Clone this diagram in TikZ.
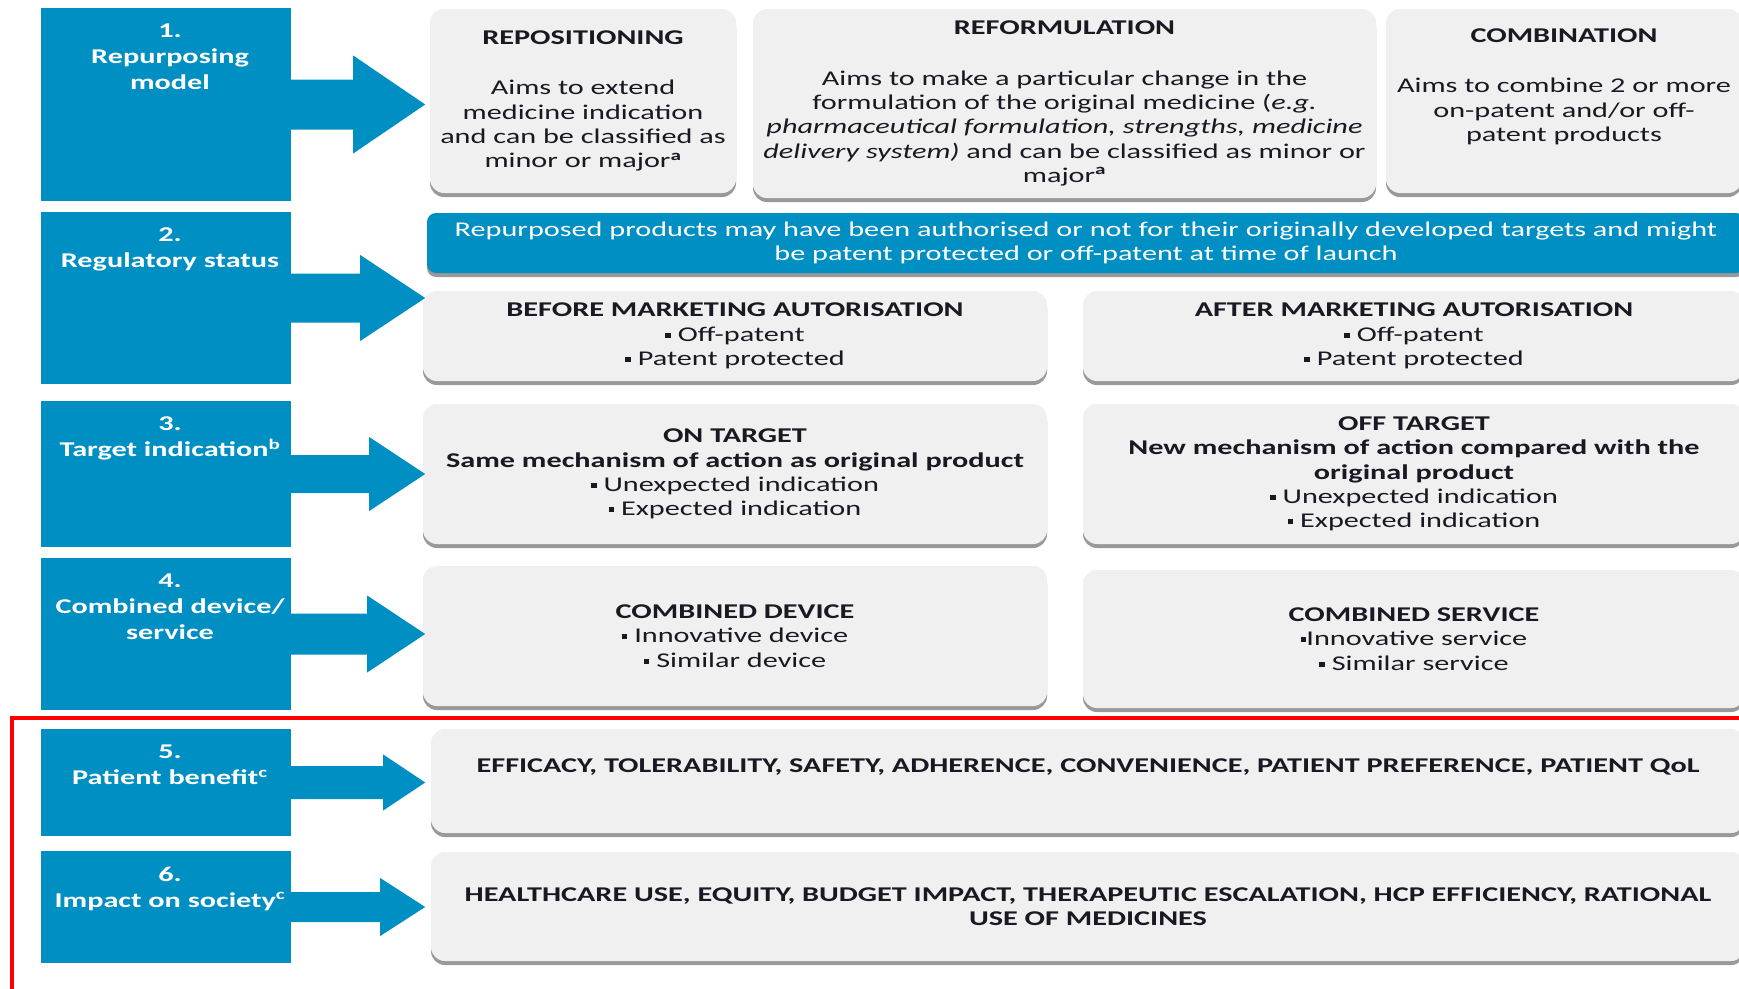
\documentclass[tikz,border=0pt]{standalone}
\usepackage{fontspec}
\setmainfont{Carlito}[FakeStretch=1.44]
\usetikzlibrary{positioning,shadows}
\definecolor{stepblue}{RGB}{0,143,194}
\definecolor{boxgray}{RGB}{240,240,240}
\definecolor{inkdark}{RGB}{25,25,35}
\newcommand{\sqbullet}{\rule[0.16em]{0.27em}{0.25em}}
\begin{document}
\begin{tikzpicture}[
            x=1pt, y=-1pt,
            stepbox/.style={fill=stepblue, minimum width=250pt, inner sep=0pt},
            steplabel/.style={text=white, align=center, inner sep=0pt, font=\bfseries\fontsize{21}{26}\selectfont},
            graybox/.style={fill=boxgray, rounded corners=14pt, align=center, text=inkdark, inner sep=0pt,
                font=\fontsize{21}{24.3}\selectfont,
                drop shadow={shadow xshift=0pt, shadow yshift=-4pt, fill=black!40, opacity=1}},
            banner/.style={graybox, fill=stepblue, text=white, rounded corners=9pt},
            ]
            \useasboundingbox[fill=white] (0,0) rectangle (1739,988);
            % left column
            \node (s1) [stepbox, minimum height=193pt] at (166,104.5) {};
            \node (s2) [stepbox, minimum height=172pt] at (166,298) {};
            \node (s3) [stepbox, minimum height=146pt] at (166,474) {};
            \node (s4) [stepbox, minimum height=152pt] at (166,634) {};
            \node (s5) [stepbox, minimum height=107pt] at (166,782.5) {};
            \node (s6) [stepbox, minimum height=112pt] at (166,907) {};
            \node (l1) [steplabel, below=16pt of s1.north, xshift=4pt] {1.\\Repurposing\\model};
            \node (l2) [steplabel, below=16pt of s2.north, xshift=4pt] {2.\\Regulatory status};
            \node (l3) [steplabel, below=16pt of s3.north, xshift=4pt] {3.\\Target indication\textsuperscript{b}};
            \node (l4) [steplabel, below=16pt of s4.north, xshift=4pt] {4.\\Combined device/\\service};
            \node (l5) [steplabel, below=16pt of s5.north, xshift=4pt] {5.\\Patient benefit\textsuperscript{c}};
            \node (l6) [steplabel, below=16pt of s6.north, xshift=4pt] {6.\\Impact on society\textsuperscript{c}};

            % row 1
            \node (repos) [graybox, minimum width=306pt, minimum height=184pt] at (583,101)
                {\textbf{REPOSITIONING}\\[26pt]Aims to extend\\medicine indication\\and can be classified as\\minor or major\textsuperscript{\textbf{a}}};
            \node (reform) [graybox, minimum width=623pt, minimum height=189pt] at (1064.5,103.5)
                {\textbf{REFORMULATION}\\[26pt]Aims to make a particular change in the\\formulation of the original medicine (\textit{e.g.}\\\textit{pharmaceutical formulation, strengths, medicine}\\\textit{delivery system)} and can be classified as minor or\\major\textsuperscript{\textbf{a}}};
            \node (combi) [graybox, minimum width=356pt, minimum height=184pt] at (1564,101)
                {\textbf{COMBINATION}\\[26pt]Aims to combine 2 or more\\on-patent and/or off-\\patent products\\\strut};
            % row 2
            \node (note) [banner, minimum width=1318pt, minimum height=60pt] at (1086,243)
                {Repurposed products may have been authorised or not for their originally developed targets and might\\be patent protected or off-patent at time of launch};
            \node (before) [graybox, minimum width=624pt, minimum height=90pt] at (735,336)
                {\textbf{BEFORE MARKETING AUTORISATION}\\\sqbullet{} Off-patent\\\sqbullet{} Patent protected};
            \node (after) [graybox, minimum width=662pt, minimum height=90pt] at (1414,336)
                {\textbf{AFTER MARKETING AUTORISATION}\\\sqbullet{} Off-patent\\\sqbullet{} Patent protected};
            % row 3
            \node (ontarget) [graybox, minimum width=624pt, minimum height=140pt] at (735,474)
                {\textbf{ON TARGET}\\\textbf{Same mechanism of action as original product}\\\sqbullet{} Unexpected indication\\\sqbullet{} Expected indication};
            \node (offtarget) [graybox, minimum width=662pt, minimum height=140pt] at (1414,474)
                {\textbf{OFF TARGET}\\\textbf{New mechanism of action compared with the}\\\textbf{original product}\\\sqbullet{} Unexpected indication\\\sqbullet{} Expected indication};
            % row 4
            \node (device) [graybox, minimum width=624pt, minimum height=140pt] at (735,636)
                {\textbf{COMBINED DEVICE}\\\sqbullet{} Innovative device\\\sqbullet{} Similar device};
            \node (service) [graybox, minimum width=662pt, minimum height=138pt] at (1414,639)
                {\textbf{COMBINED SERVICE}\\\sqbullet{}Innovative service\\\sqbullet{} Similar service};
            % rows 5 and 6
            \node (benefit) [graybox, minimum width=1314pt, minimum height=104pt] at (1088,781)
                {\textbf{EFFICACY, TOLERABILITY, SAFETY, ADHERENCE, CONVENIENCE, PATIENT PREFERENCE, PATIENT QoL}\\\strut};
            \node (society) [graybox, minimum width=1314pt, minimum height=109pt] at (1088,906.5)
                {\textbf{HEALTHCARE USE, EQUITY, BUDGET IMPACT, THERAPEUTIC ESCALATION, HCP EFFICIENCY, RATIONAL}\\\textbf{USE OF MEDICINES}};

            % block arrows: shaft length / head length / half shaft / half head
            \foreach \L/\hl/\sw/\hw [count=\i] in {62/72/25/49, 69/65/24.5/43, 78/56/19/37, 76/58/20.5/38.5, 92/42/16.5/28, 89/45/15/29}
                \fill[stepblue] (s\i.east) ++(-1,-\sw) -- ++(\L+1,0) -- ++(0,\sw-\hw) -- ++(\hl,\hw)
                    -- ++(-\hl,\hw) -- ++(0,\sw-\hw) -- ++(-\L-1,0) -- cycle;

            % red frame round rows 5 and 6
            \draw[red, line width=4pt] (12,995) -- (12,718) -- (1750,718);
        \end{tikzpicture}
\end{document}
